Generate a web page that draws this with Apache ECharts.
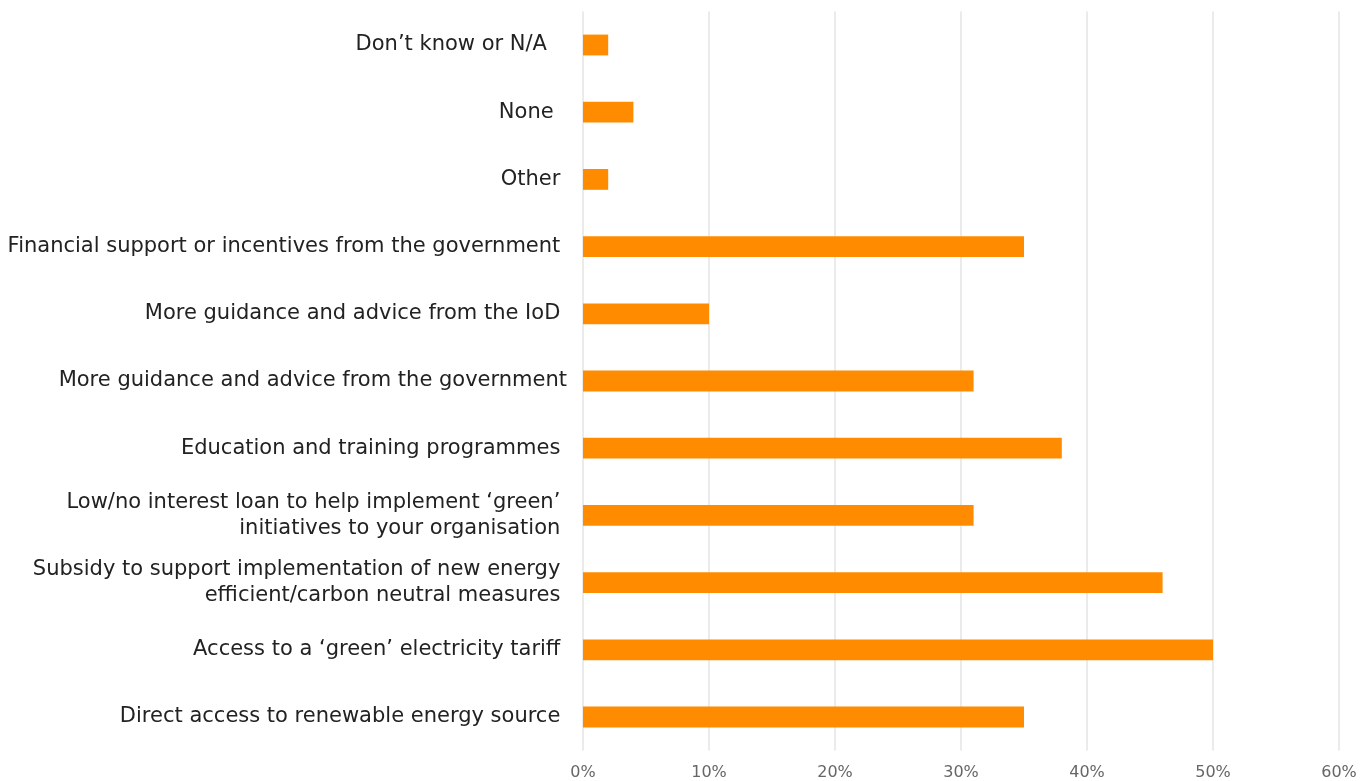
<!DOCTYPE html>
<html>
<head>
<meta charset="utf-8">
<script src="https://cdn.jsdelivr.net/npm/echarts@6/dist/echarts.min.js"></script>
<style>
  html, body { margin: 0; padding: 0; background: #ffffff; }
  #chart { width: 1360px; height: 781px; }
</style>
</head>
<body>
<div id="chart"></div>
<script>
// Survey answers, listed bottom-to-top as the category axis draws them
const categories = [
  'Direct access to renewable energy source ',
  'Access to a \u2018green\u2019 electricity tariff ',
  'Subsidy to support implementation of new energy \nefficient/carbon neutral measures ',
  'Low/no interest loan to help implement \u2018green\u2019 \ninitiatives to your organisation ',
  'Education and training programmes ',
  'More guidance and advice from the government',
  'More guidance and advice from the IoD ',
  'Financial support or incentives from the government ',
  'Other ',
  'None  ',
  'Don\u2019t know or N/A   '
];

// Share of respondents, in percent
const shares = [35, 50, 46, 31, 38, 31, 10, 35, 2, 4, 2];

// Value axis ticks (percent)
const tickMin = 0;
const tickMax = 60;
const tickStep = 10;

const chart = echarts.init(document.getElementById('chart'), null, { renderer: 'canvas' });

chart.setOption({
  animation: false,
  backgroundColor: '#ffffff',
  grid: { left: 583, right: 21, top: 11.4, bottom: 30.4, containLabel: false },
  xAxis: {
    type: 'value',
    min: tickMin,
    max: tickMax,
    interval: tickStep,
    axisLine: { show: false },
    axisTick: { show: false },
    axisLabel: {
      formatter: '{value}%',
      color: '#666666',
      fontFamily: '"DejaVu Sans", sans-serif',
      fontSize: 16,
      margin: 14
    },
    splitLine: { show: true, lineStyle: { color: '#e4e4e4', width: 1.5 } }
  },
  yAxis: {
    type: 'category',
    data: categories,
    axisLine: { show: false },
    axisTick: { show: false },
    axisLabel: {
      color: '#222222',
      fontFamily: '"DejaVu Sans", sans-serif',
      fontSize: 21,
      lineHeight: 26,
      margin: 16,
      align: 'right'
    }
  },
  series: [{
    type: 'bar',
    data: shares,
    barWidth: '31%',
    itemStyle: { color: '#ff8c00' }
  }]
});
</script>
</body>
</html>
